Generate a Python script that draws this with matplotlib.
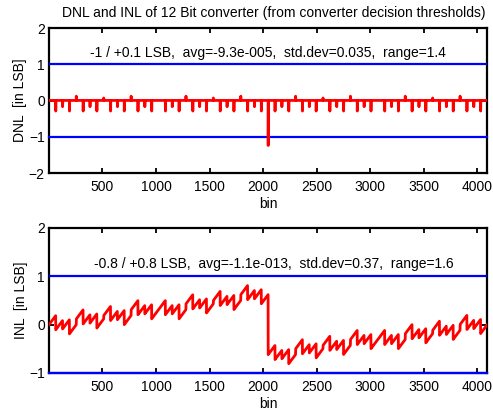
import numpy as np
import matplotlib
matplotlib.use('Agg')
import matplotlib.pyplot as plt

plt.rcParams['font.family'] = ['Liberation Sans', 'DejaVu Sans']

# DNL: small positive step everywhere, spikes every 64 codes
n_bins = 4094
dnl_baseline = 0.00284
spike_step = 64
spike_values = [
    -0.29, -0.17, -0.29, 0.12, -0.29, -0.17, -0.29, 0.07,
    -0.29, -0.17, -0.29, 0.12, -0.29, -0.17, -0.29, 0.00,
    -0.29, -0.17, -0.29, 0.12, -0.29, -0.17, -0.29, 0.07,
    -0.29, -0.17, -0.29, 0.12, -0.29, -0.17, -0.29, -1.24,
    -0.29, -0.17, -0.29, 0.12, -0.29, -0.17, -0.29, 0.07,
    -0.29, -0.17, -0.29, 0.12, -0.29, -0.17, -0.29, 0.00,
    -0.29, -0.17, -0.29, 0.12, -0.29, -0.17, -0.29, 0.07,
    -0.29, -0.17, -0.29, 0.12, -0.29, -0.17, -0.29,
]

dnl_text = '-1 / +0.1 LSB,  avg=-9.3e-005,  std.dev=0.035,  range=1.4'
inl_text = '-0.8 / +0.8 LSB,  avg=-1.1e-013,  std.dev=0.37,  range=1.6'
title = 'DNL and INL of 12 Bit converter (from converter decision thresholds)'
xticks = [500, 1000, 1500, 2000, 2500, 3000, 3500, 4000]

bins = np.arange(1, n_bins + 1)
dnl = np.full(n_bins, dnl_baseline)
for i, v in enumerate(spike_values):
    dnl[(i + 1) * spike_step - 1] = v

# INL = running sum of DNL, end points tied together, mean removed
inl = np.cumsum(dnl)
inl = inl - np.linspace(inl[0], inl[-1], n_bins)
inl = inl - inl.mean()

fs = 10
fig = plt.figure(figsize=(4.93, 4.12), dpi=100)
ax1 = fig.add_axes([0.0994, 0.580, 0.889, 0.352])
ax2 = fig.add_axes([0.0994, 0.0947, 0.889, 0.352])

for ax in (ax1, ax2):
    ax.axhline(1, color='#0000ff', lw=1.6, zorder=3)
    ax.axhline(-1, color='#0000ff', lw=1.6, zorder=3, clip_on=False)
    ax.set_xlim(1, n_bins)
    ax.set_xticks(xticks)
    ax.set_xlabel('bin', fontsize=fs, labelpad=2)
    ax.tick_params(direction='in', top=True, right=True, length=3.5,
                   width=1.3, labelsize=fs)
    ax.tick_params(axis='x', pad=5)
    ax.tick_params(axis='y', pad=3)
    for s in ax.spines.values():
        s.set_linewidth(1.6)

ax1.plot(bins, dnl, color='#ff0000', lw=2, zorder=4)
ax1.set_ylim(-2, 2)
ax1.set_yticks([-2, -1, 0, 1, 2])
ax1.set_ylabel('DNL  [in LSB]', fontsize=fs, labelpad=1)
ax1.text(2048, 1.12, dnl_text, ha='center', va='bottom', fontsize=fs)
ax1.set_title(title, fontsize=10, pad=8, x=0.512)

ax2.plot(bins, inl, color='#ff0000', lw=2, zorder=4)
ax2.set_ylim(-1, 2)
ax2.set_yticks([-1, 0, 1, 2])
ax2.set_ylabel('INL  [in LSB]', fontsize=fs, labelpad=1)
ax2.text(2100, 1.1, inl_text, ha='center', va='bottom', fontsize=fs)

fig.savefig('out.png', dpi=100)
